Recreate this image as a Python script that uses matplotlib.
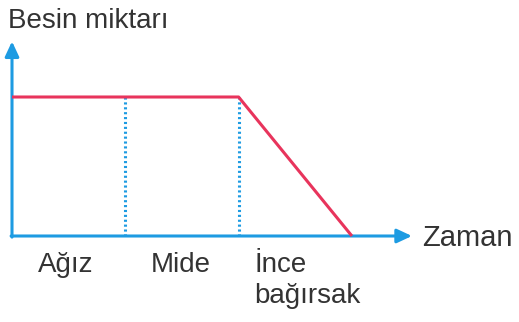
import matplotlib
matplotlib.use("Agg")
import matplotlib.pyplot as plt

# Data
stages = ["Ağız", "Mide", "İnce", "bağırsak"]
boundaries = [1, 2]               # dotted dividers between stages
line_x = [0, 1, 2, 3]             # time points
line_y = [1, 1, 1, 0]             # food amount
y_label = "Besin miktarı"
x_label = "Zaman"

RED = "#e8345c"
BLUE = "#1d9be2"
TXT = "#333333"

plt.rcParams['font.family'] = ['Liberation Sans', 'DejaVu Sans']

W, H = 519, 322
fig = plt.figure(figsize=(W / 100, H / 100), dpi=100)
ax = fig.add_axes([0, 0, 1, 1])
ux, uy = 113.3, 139.0
x0px, y0px = 12, 236
ax.set_xlim(-x0px / ux, (W - x0px) / ux)
ax.set_ylim(-(H - y0px) / uy, y0px / uy)
ax.axis("off")

# dotted dividers
for b in boundaries:
    ax.plot([b, b], [0, 1], color=BLUE, lw=2.2, ls=(0, (0.7, 0.9)), zorder=2)

# axes arrows
arrow = dict(arrowstyle="-|>,head_length=0.9,head_width=0.42", color=BLUE, lw=2.2,
             shrinkA=0, shrinkB=0)
ax.annotate("", xy=(0, 1.4), xytext=(0, -0.008), arrowprops=arrow, zorder=3)
ax.annotate("", xy=(3.53, 0), xytext=(-0.008, 0), arrowprops=arrow, zorder=3)

# red line
ax.plot(line_x, line_y, color=RED, lw=2.2, solid_capstyle="butt", zorder=4)

# labels
ax.text(-0.035, 1.50, y_label, fontsize=20, color=TXT, ha="left", va="baseline")
ax.text(3.62, -0.07, x_label, fontsize=21, color=TXT, ha="left", va="baseline")
centers = [0.47, 1.49]
for c, s in zip(centers, stages[:2]):
    ax.text(c, -0.26, s, fontsize=20, color=TXT, ha="center", va="baseline")
ax.text(2.14, -0.26, stages[2], fontsize=20, color=TXT, ha="left", va="baseline")
ax.text(2.14, -0.48, stages[3], fontsize=20, color=TXT, ha="left", va="baseline")

fig.savefig("out.png", dpi=100)
